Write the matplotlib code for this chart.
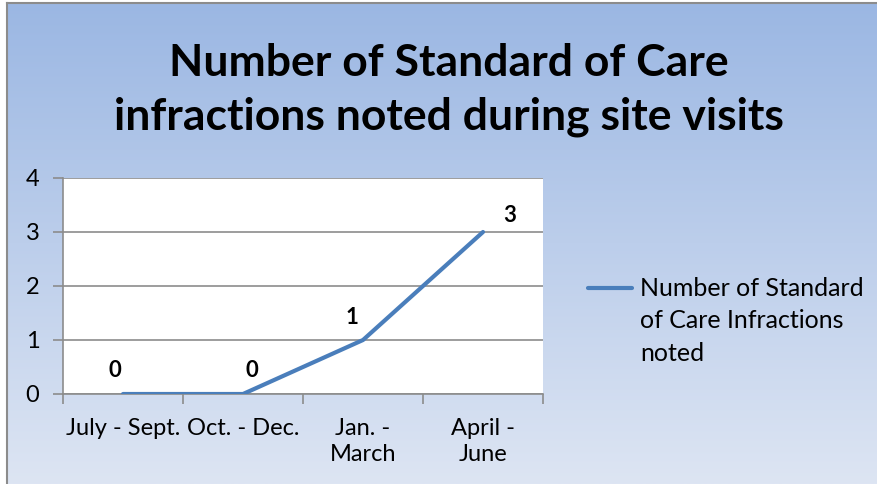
import numpy as np
import matplotlib
matplotlib.use("Agg")
import matplotlib.pyplot as plt

categories = ["July - Sept.", "Oct. - Dec.", "Jan. -\nMarch", "April -\nJune"]
values = [0, 0, 1, 3]
series_name = "Number of Standard\nof Care Infractions\nnoted"
title = "Number of Standard of Care\ninfractions noted during site visits"
yticks = [0, 1, 2, 3, 4]

plt.rcParams['font.family'] = ['Lato', 'DejaVu Sans']

W, H = 878, 484
LINE_COLOR = "#4A7EBB"
fig = plt.figure(figsize=(W/100, H/100), dpi=100)
fig.patch.set_facecolor("white")

# gradient background
bg = fig.add_axes([0, 0, 1, 1])
bg.set_xlim(0, W); bg.set_ylim(H, 0); bg.axis("off")
top = np.array([155, 183, 227]) / 255
bot = np.array([221, 229, 243]) / 255
t = np.linspace(0, 1, 256)[:, None]
grad = (top[None, :] * (1 - t) + bot[None, :] * t)[:, None, :]
bg.imshow(grad, extent=[7, W, H, 3], aspect="auto", zorder=0)
bg.plot([7, 7], [H, 3], color="#8c8c8c", lw=1.5, zorder=1)
bg.plot([7, W], [3, 3], color="#8c8c8c", lw=1.5, zorder=1)

fig.text(449/W, 1 - 90/H, title, ha="center", va="center", fontsize=32,
         fontweight="bold", linespacing=1.42)

# plot area
ax = fig.add_axes([63/W, 1 - 394/H, 480/W, 216/H])
ax.set_facecolor("white")
x = np.arange(len(categories))
ax.plot(x, values, color=LINE_COLOR, lw=3, solid_capstyle="round", zorder=3,
        label=series_name)
ax.set_xlim(-0.5, len(categories) - 0.5)
ax.set_ylim(0, 4)
ax.set_yticks(yticks)
ax.set_yticklabels([str(v) for v in yticks])
ax.grid(axis="y", color="#8c8c8c", lw=1.2)
ax.set_axisbelow(True)
ax.set_xticks(np.arange(len(categories) + 1) - 0.5)
ax.set_xticklabels([])
ax.set_xticks(x, minor=True)
ax.set_xticklabels(categories, minor=True, linespacing=1.3)
ax.tick_params(axis="x", which="minor", length=0, pad=17, labelsize=17)
ax.tick_params(axis="x", which="major", length=7, color="#8c8c8c", width=1.2)
ax.tick_params(axis="y", length=7, color="#8c8c8c", width=1.2, labelsize=17, pad=10)
for s in ["top", "right"]:
    ax.spines[s].set_visible(False)
for s in ["left", "bottom"]:
    ax.spines[s].set_color("#8c8c8c")
    ax.spines[s].set_linewidth(1.2)

offsets = [(-6, 17), (6.5, 17), (-8, 16.5), (19, 12)]
for xi, v, off in zip(x, values, offsets):
    ax.annotate(str(v), (xi, v), xytext=off, textcoords="offset points",
                ha="center", va="center", fontsize=16, fontweight="bold")

# legend (handle aligned with first text line, as in the original)
bg.plot([588, 632], [288, 288], color=LINE_COLOR, lw=3, solid_capstyle="round", zorder=2)
bg.text(640, 361, series_name, ha="left", va="baseline", fontsize=18,
        linespacing=1.5, zorder=2, transform=bg.transData)

fig.savefig("out.png", dpi=100, facecolor="white")
